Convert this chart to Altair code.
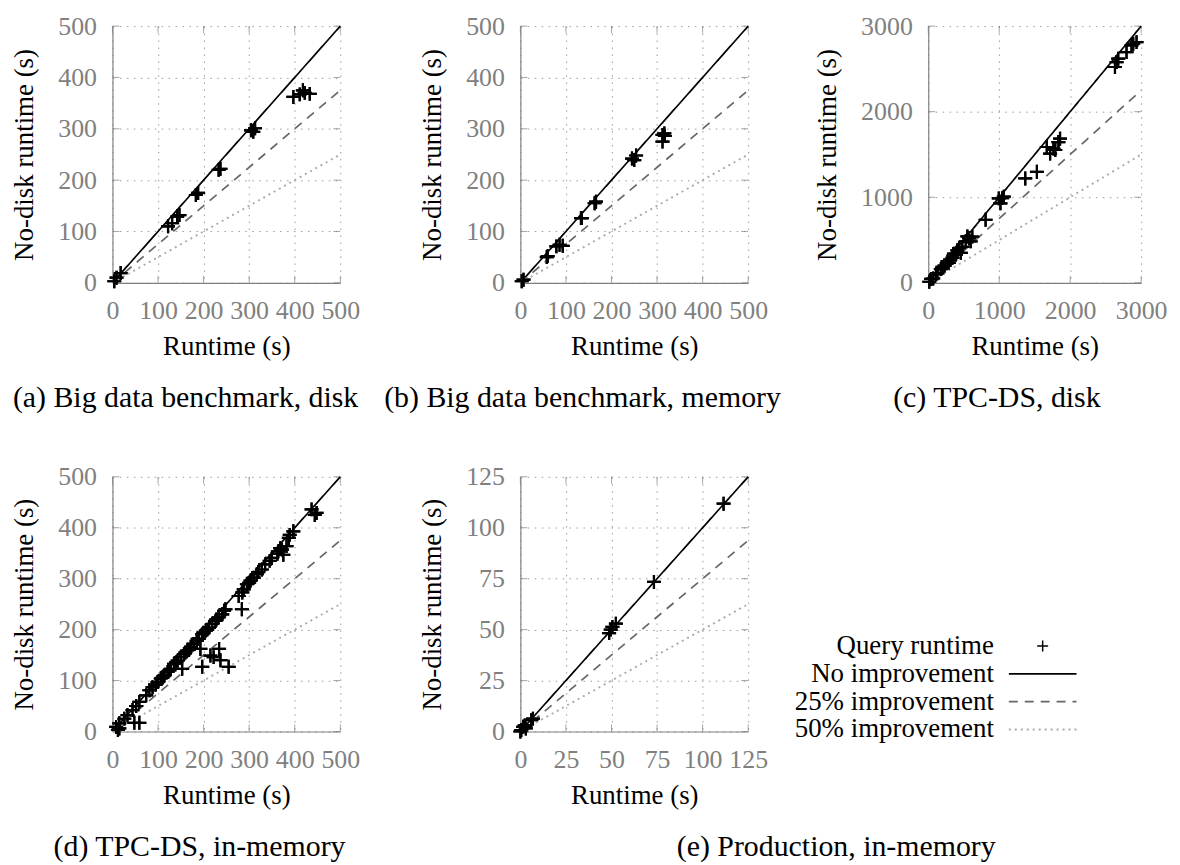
import altair as alt
import pandas as pd

FONT = "Liberation Serif"
GRAY = "#808080"

# ---------------- data ----------------
A_X = [4, 9, 18, 122, 131, 142, 147, 183, 188, 233, 237, 304, 309, 313, 397, 411, 418, 422, 433]
A_Y = [3, 10, 19, 110, 116, 129, 132, 171, 175, 220, 222, 297, 294, 301, 362, 367, 375, 370, 368]

B_X = [3, 7, 58, 60, 79, 86, 93, 133, 135, 163, 166, 245, 250, 254, 312, 316, 312, 317]
B_Y = [3, 6, 50, 52, 71, 74, 72, 126, 126, 155, 158, 242, 239, 248, 288, 291, 275, 286]

C_X = [14, 40, 70, 110, 130, 177, 200, 230, 271, 290, 310, 341, 364, 390, 410, 434, 460, 480,
       528, 551, 575, 597, 621, 808, 994, 1017, 1042, 1064, 1367, 1531, 1670, 1717, 1764, 1790,
       1834, 1857, 2631, 2654, 2677, 2794, 2864, 2888, 2935]
C_Y = [12, 45, 50, 100, 110, 160, 185, 200, 250, 233, 270, 291, 340, 330, 380, 406, 350, 420,
       485, 542, 520, 484, 540, 737, 987, 929, 990, 1007, 1220, 1297, 1587, 1510, 1568, 1552,
       1645, 1684, 2522, 2580, 2619, 2697, 2775, 2794, 2813]

D_X = [8, 12, 15, 15, 26, 33, 44, 48, 52, 59, 59, 74, 81, 88, 95, 99, 106, 110, 114, 121, 125,
       128, 135, 140, 143, 150, 153, 157, 160, 164, 168, 172, 178, 179, 185, 187, 190, 193, 197,
       197, 200, 205, 208, 212, 215, 219, 222, 226, 228, 233, 234, 237, 241, 245, 248, 255, 277,
       284, 285, 288, 295, 300, 303, 310, 317, 320, 328, 335, 345, 350, 362, 364, 368, 372, 375,
       382, 387, 389, 397, 437, 444, 448]
D_Y = [9, 3, 16, 6, 25, 32, 42, 17, 50, 58, 17, 71, 81, 87, 92, 97, 104, 106, 110, 117, 120,
       123, 133, 136, 139, 146, 123, 152, 155, 159, 160, 165, 172, 172, 178, 182, 182, 162, 191,
       127, 194, 198, 200, 204, 149, 211, 146, 217, 220, 224, 162, 140, 230, 237, 240, 127, 266,
       240, 273, 279, 289, 292, 296, 302, 309, 313, 318, 328, 335, 341, 349, 354, 360, 357, 347,
       364, 380, 386, 393, 436, 425, 429]

E_X = [0, 0.5, 1.5, 2.4, 3, 6, 6.9, 48.7, 49.6, 50.5, 52.4, 73.3, 111.5]
E_Y = [0, 0.7, 2.3, 3, 1.5, 5.5, 6.3, 48.3, 50, 51.3, 52.9, 73.4, 111.8]

TICKS_500 = [0, 100, 200, 300, 400, 500]
TICKS_3000 = [0, 1000, 2000, 3000]
TICKS_125 = [0, 25, 50, 75, 100, 125]

CAPTIONS = [
    "(a) Big data benchmark, disk",
    "(b) Big data benchmark, memory",
    "(c) TPC-DS, disk",
    "(d) TPC-DS, in-memory",
    "(e) Production, in-memory",
]

LEGEND_LABELS = ["Query runtime", "No improvement", "25% improvement", "50% improvement"]
LINE_NAMES = ["No improvement", "25% improvement", "50% improvement"]
LINE_RATIOS = [1.0, 0.75, 0.5]
LINE_DASH = [[1, 0], [9, 7], [2, 4]]
LINE_COLOR = ["#000000", "#666666", "#aaaaaa"]
LINE_WIDTH = [1.7, 1.7, 1.9]

PLUS = "M-1,0L1,0M0,-1L0,1"


def panel(xs, ys, vmax, ticks, w, h, caption, dx):
    scale = alt.Scale(domain=[0, vmax], nice=False, zero=True)
    xax = alt.Axis(values=ticks, format="d", title="Runtime (s)", labelPadding=15, titlePadding=10)
    yax = alt.Axis(values=ticks, format="d", title="No-disk runtime (s)", labelPadding=16, titlePadding=19)

    pts = pd.DataFrame({"x": xs, "y": ys})
    tk = pd.DataFrame({"v": ticks})

    base_pts = alt.Chart(pts).mark_point(
        shape=PLUS, size=196, filled=False, stroke="#000000", strokeWidth=2.2, opacity=1
    ).encode(
        x=alt.X("x:Q", scale=scale, axis=xax),
        y=alt.Y("y:Q", scale=scale, axis=yax),
    )

    layers = []
    for name, r, dash, col, sw in zip(LINE_NAMES, LINE_RATIOS, LINE_DASH, LINE_COLOR, LINE_WIDTH):
        ld = pd.DataFrame({"x": [0, vmax], "ratio": [r, r]})
        layers.append(
            alt.Chart(ld).transform_calculate(y="datum.ratio * datum.x").mark_line(
                color=col, strokeDash=dash, strokeWidth=sw
            ).encode(
                x=alt.X("x:Q", scale=scale, axis=xax),
                y=alt.Y("y:Q", scale=scale, axis=yax),
            )
        )

    tmark = dict(size=7, thickness=1, color=GRAY)
    tick_x_bot = alt.Chart(tk).mark_tick(orient="vertical", **tmark).encode(
        x=alt.X("v:Q", scale=scale, axis=xax), y=alt.value(h - 3.5))
    tick_x_top = alt.Chart(tk).mark_tick(orient="vertical", **tmark).encode(
        x=alt.X("v:Q", scale=scale, axis=xax), y=alt.value(3.5))
    tick_y_left = alt.Chart(tk).mark_tick(orient="horizontal", **tmark).encode(
        y=alt.Y("v:Q", scale=scale, axis=yax), x=alt.value(3.5))
    tick_y_right = alt.Chart(tk).mark_tick(orient="horizontal", **tmark).encode(
        y=alt.Y("v:Q", scale=scale, axis=yax), x=alt.value(w - 3.5))

    return alt.layer(
        base_pts, tick_x_bot, tick_x_top, tick_y_left, tick_y_right, *layers, base_pts
    ).properties(
        width=w, height=h,
        title=alt.TitleParams(
            caption, orient="bottom", anchor="middle", dx=dx, offset=24,
            font=FONT, fontSize=30, fontWeight="normal", color="#000000",
        ),
    )


pa = panel(A_X, A_Y, 500, TICKS_500, 229, 258, CAPTIONS[0], -41)
pb = panel(B_X, B_Y, 500, TICKS_500, 229, 258, CAPTIONS[1], -52)
pc = panel(C_X, C_Y, 3000, TICKS_3000, 214, 258, CAPTIONS[2], -38)
pd_ = panel(D_X, D_Y, 500, TICKS_500, 229, 256, CAPTIONS[3], -27)
pe = panel(E_X, E_Y, 125, TICKS_125, 229, 256, CAPTIONS[4], 203)

# ---------------- legend panel ----------------
leg = pd.DataFrame({"label": LEGEND_LABELS})
ly = alt.Y("label:N", scale=alt.Scale(type="point", domain=LEGEND_LABELS, range=[170, 254], padding=0),
           axis=None)
leg_text = alt.Chart(leg).mark_text(
    align="right", baseline="middle", font=FONT, fontSize=27, color="#000000"
).encode(x=alt.value(66), y=ly, text="label:N")
leg_plus = alt.Chart(leg).transform_filter(
    alt.datum.label == LEGEND_LABELS[0]
).mark_point(shape=PLUS, size=121, filled=False, stroke="#000000", strokeWidth=1.5, opacity=1).encode(
    x=alt.value(115), y=ly)
leg_lines = []
for name, dash, col, sw in zip(LINE_NAMES, LINE_DASH, LINE_COLOR, LINE_WIDTH):
    leg_lines.append(
        alt.Chart(leg).transform_filter(alt.datum.label == name).mark_rule(
            color=col, strokeDash=dash, strokeWidth=sw
        ).encode(x=alt.value(81), x2=alt.value(149), y=ly)
    )
legend = alt.layer(leg_text, leg_plus, *leg_lines).properties(width=214, height=256)

chart = alt.ConcatChart(
    concat=[pa, pb, pc, pd_, pe, legend],
    columns=3,
    spacing={"row": 195, "column": 181},
    bounds="flush",
    padding={"left": 3, "top": 3, "right": 5, "bottom": 2},
).configure(font=FONT).configure_view(stroke=None).configure_axis(
    grid=True, gridColor="#9a9a9a", gridDash=[1.5, 5.5], gridWidth=1,
    ticks=False, domainColor=GRAY, domainWidth=1.2,
    labelColor=GRAY, labelFont=FONT, labelFontSize=26, labelOverlap=False, labelFlush=False,
    titleFont=FONT, titleFontSize=27, titleFontWeight="normal", titleColor="#000000",
)

chart.save("out.html", embed_options={"renderer": "svg", "actions": False})
